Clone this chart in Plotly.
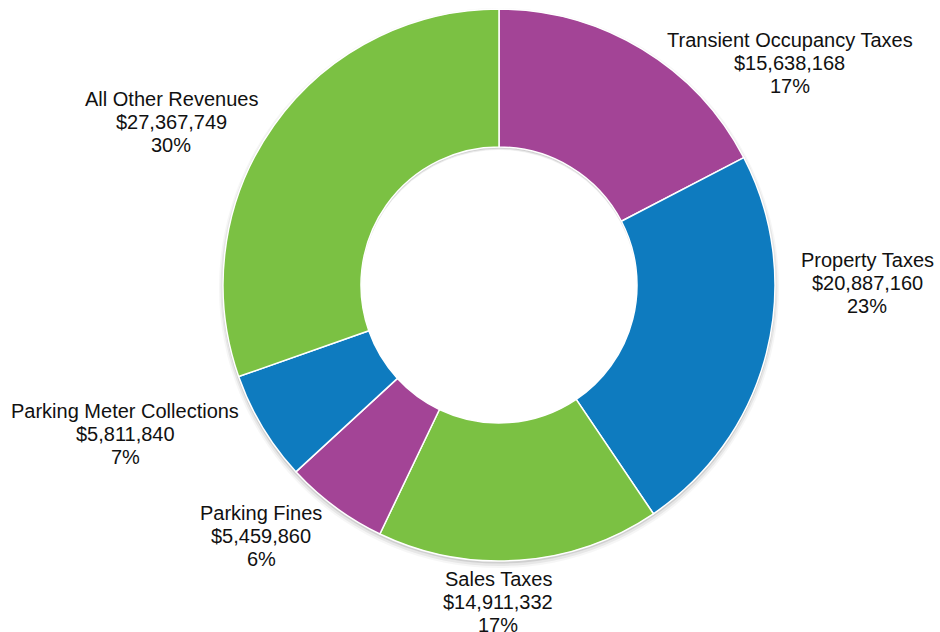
import math
import plotly.graph_objects as go

# Revenue sources, listed clockwise from the 12 o'clock position
categories = [
    "Transient Occupancy Taxes",
    "Property Taxes",
    "Sales Taxes",
    "Parking Fines",
    "Parking Meter Collections",
    "All Other Revenues",
]
revenues = [15638168, 20887160, 14911332, 5459860, 5811840, 27367749]

PURPLE = "#A34496"
BLUE = "#0E7BBF"
GREEN = "#7BC143"
slice_colors = [PURPLE, BLUE, GREEN, PURPLE, BLUE, GREEN]

W, H = 940, 632
FONT = dict(family="Liberation Sans, Arial, sans-serif", size=20, color="#111111")
LINE_STEP = 23  # px between label lines

# Ring geometry in pixels: centre and outer radius
CX, CY, R = 499, 285, 276
HOLE = 0.5

# Label block anchors (x centre, y of first line) in pixels, one per category
label_anchor_px = [
    (789.5, 40),
    (867, 259.5),
    (498, 579),
    (261, 512.5),
    (125, 410.5),
    (171, 99),
]


def whole_percents(vals):
    """Round shares to whole percents that add up to 100 (largest remainder)."""
    total = sum(vals)
    raw = [v * 100 / total for v in vals]
    base = [math.floor(r) for r in raw]
    short = 100 - sum(base)
    order = sorted(range(len(vals)), key=lambda i: raw[i] - base[i], reverse=True)
    for i in order[:short]:
        base[i] += 1
    return base


pcts = whole_percents(revenues)


def domain_for(radius, cy=CY):
    return dict(
        x=[(CX - radius) / W, (CX + radius) / W],
        y=[1 - (cy + radius) / H, 1 - (cy - radius) / H],
    )


fig = go.Figure()

# Soft drop shadow under the ring
for grow, shift, alpha in [(4, 3.0, 0.035), (2.5, 2.5, 0.06), (1, 1.5, 0.10)]:
    rr = R + grow
    fig.add_trace(
        go.Pie(
            values=[sum(revenues)],
            hole=(R * HOLE) / rr,
            sort=False,
            marker=dict(colors=[f"rgba(0,0,0,{alpha})"], line=dict(width=0)),
            textinfo="none",
            hoverinfo="skip",
            showlegend=False,
            domain=domain_for(rr, CY + shift),
        )
    )

fig.add_trace(
    go.Pie(
        labels=categories,
        values=revenues,
        hole=HOLE,
        sort=False,
        direction="clockwise",
        rotation=0,
        marker=dict(colors=slice_colors, line=dict(color="white", width=1.5)),
        textinfo="none",
        customdata=pcts,
        hovertemplate="%{label}<br>$%{value:,}<br>%{customdata}%<extra></extra>",
        showlegend=False,
        domain=domain_for(R),
    )
)

annotations = []
for name, val, pct, (ax, ay) in zip(categories, revenues, pcts, label_anchor_px):
    lines = [name, f"${val:,}", f"{pct}%"]
    for k, line in enumerate(lines):
        annotations.append(
            dict(
                text=line,
                x=ax / W,
                y=1 - (ay + k * LINE_STEP) / H,
                xref="paper",
                yref="paper",
                xanchor="center",
                yanchor="middle",
                showarrow=False,
                font=FONT,
            )
        )

fig.update_layout(
    width=W,
    height=H,
    margin=dict(l=0, r=0, t=0, b=0),
    paper_bgcolor="white",
    plot_bgcolor="white",
    annotations=annotations,
)

fig.write_html("out.html")
